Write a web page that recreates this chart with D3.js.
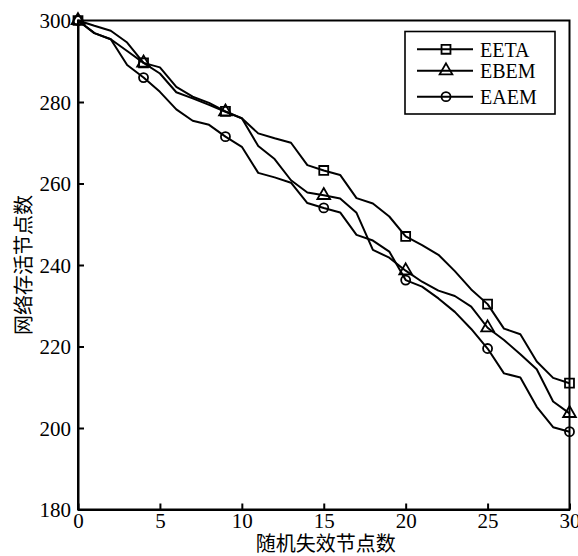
<!DOCTYPE html>
<html><head><meta charset="utf-8">
<script src="https://cdn.jsdelivr.net/npm/d3@7"></script>
<style>
html,body{margin:0;padding:0;background:#fff;}
svg{display:block;}
</style></head>
<body>
<script>
const xValues = d3.range(0, 31);
const seriesNames = ["EETA", "EBEM", "EAEM"];
const EETA = [300,298.7,297.5,294.6,289.6,288.5,283.7,281.3,279.8,277.7,276,272.3,271.1,270,264.5,263.2,262.1,256.4,255.1,251.9,247,244.9,242.5,238.5,234,230.4,224.4,223,216.3,212.3,211];
const EBEM = [300,296.9,295.4,292.5,289.6,287,282.4,280.9,279.3,277.6,276,269.2,266,260.8,257.8,257.1,256.3,252.8,243.7,241.8,238.6,235.9,233.7,232.4,229.8,224.6,221.6,218.1,214.4,206.5,203.6];
const EAEM = [300,296.9,295.4,289.1,286,282.5,278.2,275.4,274.4,271.5,269,262.6,261.5,260.2,255.2,254,252.9,247.4,246,243.3,236.3,234.7,231.8,228.5,224.3,219.5,213.4,212.4,205.2,200.2,199.1];
const markerX = [0,4,9,15,20,25,30];
const xTicks = [0,5,10,15,20,25,30];
const yTicks = [180,200,220,240,260,280,300];
const xLabel = "随机失效节点数";
const yLabel = "网络存活节点数";

const W = 578, H = 556;
const svg = d3.select("body").append("svg").attr("width", W).attr("height", H);
const mLeft = 78, mRight = 569.5, mTop = 20.5, mBottom = 509.5;
const x = d3.scaleLinear().domain([0,30]).range([mLeft,mRight]);
const y = d3.scaleLinear().domain([180,300]).range([mBottom,mTop]);
const serif = "'Liberation Serif','Times New Roman',serif";
const cjk = "'Noto Sans CJK SC',sans-serif";

// frame
svg.append("rect").attr("x",mLeft).attr("y",mTop).attr("width",mRight-mLeft).attr("height",mBottom-mTop)
  .attr("fill","none").attr("stroke","#000").attr("stroke-width",2);

// axes
const xAxis = svg.append("g").attr("transform",`translate(0,${mBottom})`)
  .call(d3.axisBottom(x).tickValues(xTicks).tickSizeInner(-6).tickSizeOuter(0).tickPadding(4));
const yAxis = svg.append("g").attr("transform",`translate(${mLeft},0)`)
  .call(d3.axisLeft(y).tickValues(yTicks).tickSizeInner(-6).tickSizeOuter(0).tickPadding(7));
[xAxis,yAxis].forEach(g=>{
  g.select(".domain").attr("stroke","#000").attr("stroke-width",2);
  g.selectAll(".tick line").attr("stroke","#000").attr("stroke-width",2);
  g.selectAll(".tick text").attr("font-family",serif).attr("font-size",21).attr("fill","#000");
});
xAxis.selectAll(".tick text").attr("dy","0.7em");
yAxis.selectAll(".tick text").attr("dy","0.34em");

// labels
svg.append("text").attr("x",(mLeft+mRight)/2+2).attr("y",551).attr("text-anchor","middle")
  .attr("font-family",cjk).attr("font-size",20).attr("fill","#000").text(xLabel);
svg.append("text").attr("transform",`translate(31,${(mTop+mBottom)/2}) rotate(-90)`).attr("text-anchor","middle")
  .attr("font-family",cjk).attr("font-size",20).attr("fill","#000").text(yLabel);

// lines
const data = [EETA, EBEM, EAEM];
const line = d3.line().x((d,i)=>x(xValues[i])).y(d=>y(d));
data.forEach(s=>{
  svg.append("path").datum(s).attr("d",line).attr("fill","none").attr("stroke","#000").attr("stroke-width",2).attr("stroke-linejoin","round");
});

const symbols = [d3.symbolSquare, d3.symbolTriangle, d3.symbolCircle];
const sizes = [80, 70, 64];
function drawMarker(g, k, cx, cy){
  g.append("path").attr("d", d3.symbol().type(symbols[k]).size(sizes[k])())
    .attr("transform",`translate(${cx},${cy})`)
    .attr("fill","none").attr("stroke","#000").attr("stroke-width",1.8);
}
data.forEach((s,k)=>{
  markerX.forEach(mx=>{
    const i = xValues.indexOf(mx);
    drawMarker(svg, k, x(mx), y(s[i]));
  });
});

// legend
const lg = svg.append("g");
lg.append("rect").attr("x",405).attr("y",31.5).attr("width",150).attr("height",82.5)
  .attr("fill","#fff").attr("stroke","#000").attr("stroke-width",1.6);
const rowY = [49.3, 70.7, 96.7];
seriesNames.forEach((n,k)=>{
  lg.append("line").attr("x1",417).attr("x2",473).attr("y1",rowY[k]).attr("y2",rowY[k]).attr("stroke","#000").attr("stroke-width",2);
  drawMarker(lg, k, 446, rowY[k]);
  lg.append("text").attr("x",480).attr("y",rowY[k]+7.3).attr("font-family",serif).attr("font-size",20).attr("fill","#000").text(n);
});
</script>
</body></html>
